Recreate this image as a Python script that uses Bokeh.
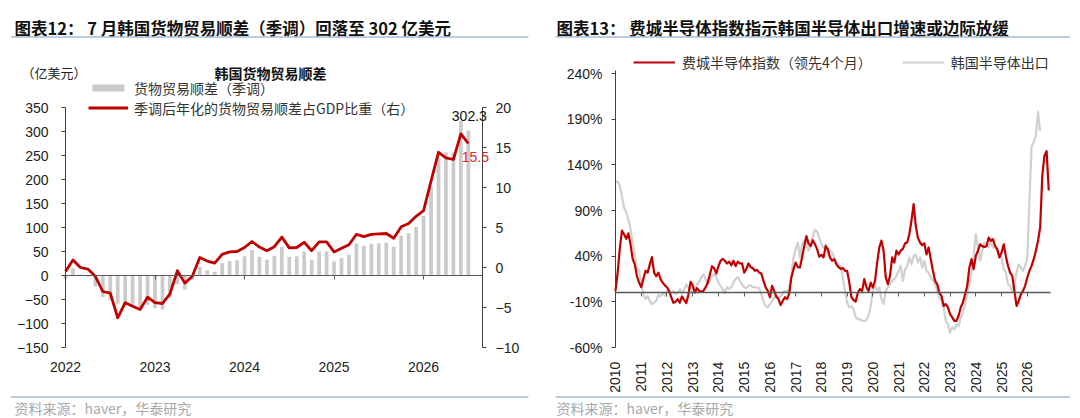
import math
from bokeh.plotting import figure
from bokeh.layouts import row
from bokeh.models import (ColumnDataSource, Range1d, LinearAxis, FixedTicker, Label, Legend,
                          LegendItem, BoxAnnotation, PrintfTickFormatter)
from bokeh.embed import file_html
from bokeh.resources import INLINE

CN = "Noto Sans CJK SC"
NUM = "Liberation Sans"
RED = "#c00000"
BAR_GRAY = "#cbcbcb"
LINE_GRAY = "#d0d0d0"
RULE_BLUE = "#a7bcd6"
AXIS = "#404040"
TXT = "#222222"

# ---- 图表12: monthly, Jan 2022 .. Jul 2026
trade_months = list(range(55))
trade_balance = [  # 亿美元 (季调)
    -8, 15, 2, -2, -23, -45, -52, -59, -61, -64, -66, -61,
    -68, -71, -47, -18, -29, -10, 18, 11, 8, 26, 30, 32,
    40, 53, 39, 33, 41, 60, 39, 40, 50, 33, 50, 50,
    29, 36, 43, 66, 62, 66, 67, 69, 60, 83, 88, 101,
    124, 185, 245, 256, 256, 322, 302.3,
]
trade_gdp_share = [  # % of GDP, right axis
    -0.5, 0.94, 0.0, -0.2, -1.1, -3.0, -3.2, -6.3, -4.4, -4.85, -5.25, -3.7,
    -4.4, -4.5, -3.3, -0.4, -1.95, -1.1, 1.25, 0.8, 0.55, 1.65, 1.95, 2.0,
    2.5, 3.25, 2.55, 2.1, 2.6, 3.8, 2.45, 2.5, 3.15, 2.1, 3.2, 3.2,
    1.95, 2.4, 2.85, 4.15, 3.85, 4.15, 4.2, 4.25, 3.65, 5.1, 5.5, 6.4,
    7.1, 10.8, 14.4, 13.7, 13.5, 16.7, 15.5,
]
trade_year_ticks = [0, 12, 24, 36, 48]
trade_year_labels = ["2022", "2023", "2024", "2025", "2026"]
trade_left_ticks = [-150, -100, -50, 0, 50, 100, 150, 200, 250, 300, 350]
trade_right_ticks = [-10, -5, 0, 5, 10, 15, 20]

# ---- 图表13: monthly from Jan 2010, y/y %
semi_start_year = 2010
sox_index = [  # 费城半导体指数（领先4个月）
    2, 22, 48, 68, 64, 59, 65, 53, 37, 31, 18, 11,
    6, 15, 24, 22, 31, 39, 22, 18, 22, 15, 11, 8,
    6, 2, -5, -11, -10, -7, -11, -4, -8, -11.5, -2, 12,
    8, 0, 5, 2, 1, 2, 6, 11, 20, 29, 27, 21,
    29, 35, 37, 35, 32, 34, 30, 35, 29, 34, 32, 32,
    22, 26, 32, 28, 27, 24, 25, 22, 21, 13, 6, 2,
    -5, 7.5, 2, -4.5, -7, -13.6, -9, -5, -7, -1, 16.7, 25.8,
    33, 28, 27.6, 38.6, 51, 62, 54, 51, 57.5, 53, 47.7, 39.3,
    41.5, 38.6, 51, 47.6, 38.5, 35, 36.7, 31, 28, 26, 27, 24,
    24, 11, -5, -8, -9.6, 0, 4, 2, 15, 6, 2, 11,
    5.7, 13, 33, 49.5, 57, 46, 16.7, 9.4, 18.5, 38.6, 33, 46,
    42, 46, 48, 54, 55, 64, 79, 97, 73, 60, 55, 52,
    54, 42, 49.5, 36.7, 24, 13, 9.4, 0, -3.5, -14.5, -12.5, -16,
    -23.5, -27, -30.8, -30.8, -25, -16, -10.8, -1.6, 7.5, 27.6, 36.7, 25.8,
    40.4, 45.9, 53, 51, 50, 51, 60.4, 56.8, 58.6, 51, 47.7, 38.6,
    44, 53, 40, 29.5, 22, 18.4, 2, -14.5, -9, -1.8, 2, 7.5,
    16.6, 24, 29.4, 36.7, 45.9, 56.8, 71.4, 128, 150, 155, 112,
]
korea_semi_exports = [  # 韩国半导体出口
    121, 122, 117, 106, 93, 88, 80, 70, 55, 40, 28, 24,
    11, -2, -7, -3.5, -9, -12.5, -11, -9, -2, -4, 0, -3.5,
    2, 0, -0.5, 2, -1.5, 0, 4, -0.5, 3, 9, 5, 6,
    0, 2, 9, 12, 17, 20, 15, 9, 13, 18.5, 20, 17,
    11, 7.5, 4, -0.5, 6, 4, 6, 11, 15, 17, 13, 9,
    6, 5, 7.5, 8, 6, 6, 5.7, 4.5, -1.5, -9, -14.4, -16,
    -12.5, -9, -5, -3.5, -5, -4.5, 0, 2, 1.3, 4, 20, 38.5,
    47.6, 55, 38.5, 53, 57, 55, 46, 52, 62, 69, 67, 60,
    53, 48.7, 53, 42, 46, 44, 38.5, 33, 30.5, 29, 16.6, 2,
    -11, -16, -14.4, -18, -27, -29, -29, -31, -31, -30, -25, -14.4,
    2, 7.5, 2, 5.7, -7, -12.5, 2, 5.7, 9.4, 13, 15, 18.5,
    24, 29.6, 13, 25, 29.4, 38.6, 31, 40, 42, 33, 38.6, 27.6,
    35, 24, 22, 16.6, 13, 9.4, 2, -5.4, -9, -16, -31, -34.6,
    -43.7, -38, -40, -34.6, -36.4, -27, -21.7, -12.5, -1.8, 9.4, 22, 40.4,
    64, 49.5, 35, 45.8, 55, 53, 50, 55, 49.5, 49.5, 45.9, 40.4,
    38.6, 25.8, 22, 9.4, 7.5, 2, 9.4, 22, 31, 27.6, 24, 29.4,
    38, 100, 160, 165, 172, 198, 177,
]
semi_year_ticks = list(range(2010, 2027))
semi_pct_ticks = [-60, -10, 40, 90, 140, 190, 240]

FIG_W, FIG_H = 540, 418


def full_range(v0, v1, p0, p1, total):
    # range over the whole canvas so that v0 sits at pixel p0 and v1 at pixel p1
    k = (v1 - v0) / (p1 - p0)
    return Range1d(v0 - p0 * k, v0 + (total - p0) * k)


def make_fig(fig_x, xr, yr):
    p = figure(width=FIG_W, height=FIG_H, output_backend="svg", toolbar_location=None,
               x_range=xr, y_range=yr, x_axis_type=None, y_axis_type=None, min_border=0)
    p.outline_line_color = None
    p.grid.visible = False

    def at(px, py):
        # page pixel -> screen units (from the canvas' bottom-left)
        return px - fig_x, FIG_H - py
    return p, at


def furniture(p, at, text_x, header, rule_x0, rule_x1):
    hx, hy = at(text_x, 27)
    p.add_layout(Label(x=hx, y=hy, x_units="screen", y_units="screen", text=header,
                       text_font=CN, text_font_size="16.5px", text_font_style="bold",
                       text_color="#111111", text_baseline="middle"))
    for ry in (36.5, 396.5):
        x0, y0 = at(rule_x0, ry + 0.8)
        x1, y1 = at(rule_x1, ry - 0.8)
        p.add_layout(BoxAnnotation(left=x0, right=x1, bottom=y0, top=y1,
                                   left_units="screen", right_units="screen",
                                   top_units="screen", bottom_units="screen",
                                   fill_color=RULE_BLUE, fill_alpha=1, line_color=None))
    fx, fy = at(text_x, 417)
    p.add_layout(Label(x=fx, y=fy, x_units="screen", y_units="screen",
                       text="资料来源：haver，华泰研究", text_font=CN, text_font_size="14px",
                       text_color="#a8a8a8", text_baseline="bottom"))


def style_axis(ax, standoff):
    ax.axis_line_color = AXIS
    ax.major_tick_line_color = AXIS
    ax.major_tick_out = 4
    ax.major_tick_in = 0
    ax.minor_tick_line_color = None
    ax.major_label_text_font = NUM
    ax.major_label_text_font_size = "14px"
    ax.major_label_text_color = TXT
    ax.major_label_standoff = standoff


# ================= left: 图表12 =================
X_END1 = 55.9
xr1 = full_range(0, X_END1, 65, 482, FIG_W)
yr1 = full_range(-150, 350, FIG_H - 347, FIG_H - 107, FIG_H)
p1, at1 = make_fig(0, xr1, yr1)
p1.extra_y_ranges = {"right": full_range(-10, 20, FIG_H - 347, FIG_H - 107, FIG_H)}

src1 = ColumnDataSource(dict(m=trade_months, bal=trade_balance, share=trade_gdp_share))
bars = p1.vbar(x="m", top="bal", width=0.5, source=src1, fill_color=BAR_GRAY, line_color=None)
share = p1.line(x="m", y="share", source=src1, y_range_name="right",
                line_color=RED, line_width=2.8, line_join="round")

yl1 = LinearAxis(fixed_location=0, bounds=(-150, 350), ticker=FixedTicker(ticks=trade_left_ticks))
style_axis(yl1, 13)
p1.add_layout(yl1, "left")
yr1_ax = LinearAxis(y_range_name="right", fixed_location=X_END1, bounds=(-10, 20),
                    ticker=FixedTicker(ticks=trade_right_ticks))
style_axis(yr1_ax, 9)
p1.add_layout(yr1_ax, "right")
xa1 = LinearAxis(fixed_location=0, bounds=(0, X_END1), ticker=FixedTicker(ticks=trade_year_ticks),
                 major_label_overrides=dict(zip(trade_year_ticks, trade_year_labels)))
style_axis(xa1, 82)
xa1.axis_line_color = "#5a5a5a"
xa1.major_tick_line_color = "#5a5a5a"
p1.add_layout(xa1, "below")

furniture(p1, at1, 14, "图表12： 7 月韩国货物贸易顺差（季调）回落至 302 亿美元", 10.5, 528)

tx, ty = at1(270, 72)
p1.add_layout(Label(x=tx, y=ty, x_units="screen", y_units="screen", text="韩国货物贸易顺差",
                    text_font=CN, text_font_size="14px", text_font_style="bold",
                    text_color="#111111", text_align="center", text_baseline="middle"))
ux, uy = at1(21, 72)
p1.add_layout(Label(x=ux, y=uy, x_units="screen", y_units="screen", text="（亿美元）",
                    text_font=CN, text_font_size="13px", text_color=TXT, text_baseline="middle"))
p1.add_layout(Label(x=trade_months[-1], y=trade_balance[-1], text=f"{trade_balance[-1]:.1f}",
                    x_offset=1, y_offset=9, text_font=NUM, text_font_size="14px",
                    text_color="#111111", text_align="center", text_baseline="bottom"))
p1.add_layout(Label(x=trade_months[-1], y=trade_gdp_share[-1], y_range_name="right",
                    text=f"{trade_gdp_share[-1]:.1f}", x_offset=7, y_offset=-8,
                    text_font=NUM, text_font_size="14px", text_color="#d92a2a",
                    text_align="center", text_baseline="top"))

lx, ly = at1(88, 117.5)
legend1 = Legend(items=[LegendItem(label="货物贸易顺差（季调）", renderers=[bars]),
                        LegendItem(label="季调后年化的货物贸易顺差占GDP比重（右）", renderers=[share])],
                 location=(lx, ly), orientation="vertical", padding=0, margin=0, spacing=0,
                 glyph_width=40, glyph_height=9, label_height=14, label_standoff=6,
                 label_text_font=CN, label_text_font_size="14px", label_text_color="#333333",
                 background_fill_alpha=0, border_line_color=None)
p1.add_layout(legend1)

# ================= right: 图表13 =================
X0_2, X_END2 = 2010, 2026.89
xr2 = full_range(X0_2, X_END2, 615 - 540, 1049.7 - 540, FIG_W)
yr2 = full_range(-60, 240, FIG_H - 347, FIG_H - 73, FIG_H)
p2, at2 = make_fig(540, xr2, yr2)

sox_x = [semi_start_year + i / 12 for i in range(len(sox_index))]
exp_x = [semi_start_year + i / 12 for i in range(len(korea_semi_exports))]
exp_line = p2.line(exp_x, korea_semi_exports, line_color=LINE_GRAY, line_width=2.2,
                   line_join="round")
sox_line = p2.line(sox_x, sox_index, line_color=RED, line_width=2.2, line_join="round")

ya2 = LinearAxis(fixed_location=X0_2, bounds=(-60, 243), ticker=FixedTicker(ticks=semi_pct_ticks),
                 formatter=PrintfTickFormatter(format="%d%%"))
style_axis(ya2, 9)
p2.add_layout(ya2, "left")
xa2 = LinearAxis(fixed_location=0, bounds=(X0_2, X_END2), ticker=FixedTicker(ticks=semi_year_ticks))
style_axis(xa2, 65)
xa2.axis_line_color = "#595959"
xa2.axis_line_width = 1.6
xa2.major_tick_line_color = "#595959"
xa2.major_label_orientation = math.pi / 2
p2.add_layout(xa2, "below")

furniture(p2, at2, 556, "图表13： 费城半导体指数指示韩国半导体出口增速或边际放缓", 555, 1069.5)

lx2, ly2 = at2(633, 71.5)
legend2 = Legend(items=[LegendItem(label="费城半导体指数（领先4个月）", renderers=[sox_line]),
                        LegendItem(label="韩国半导体出口", renderers=[exp_line])],
                 location=(lx2, ly2), orientation="horizontal", padding=0, margin=0, spacing=30,
                 glyph_width=42, glyph_height=16, label_height=16, label_standoff=7,
                 label_text_font=CN, label_text_font_size="14px", label_text_color="#333333",
                 background_fill_alpha=0, border_line_color=None)
p2.add_layout(legend2)

layout = row(p1, p2)
open("out.html", "w").write(file_html(layout, INLINE))
